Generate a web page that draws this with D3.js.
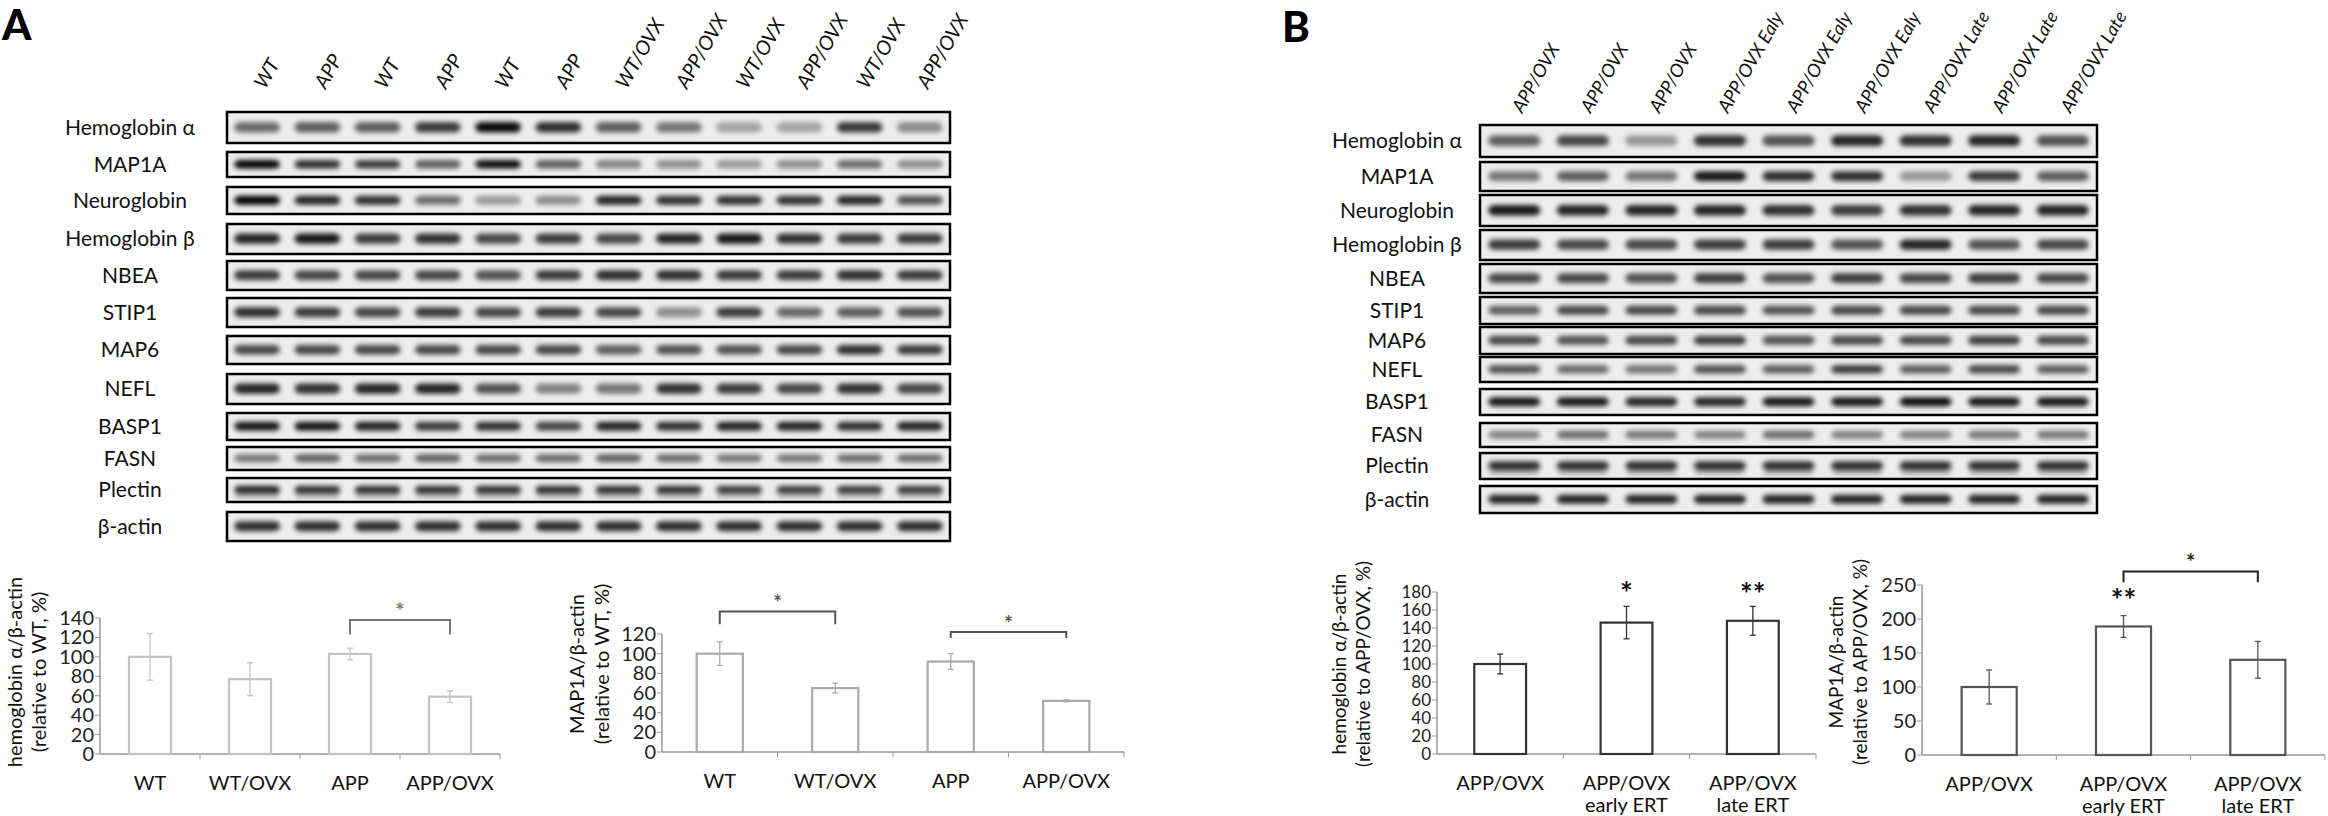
<!DOCTYPE html>
<html><head><meta charset="utf-8">
<script src="https://cdn.jsdelivr.net/npm/d3@7"></script>
<style>body{margin:0;background:#fff}svg{display:block}text{font-family:Lato,"Open Sans",sans-serif}</style>
</head><body><svg id="c" width="2328" height="816"></svg>
<script>
// ---------- DATA ----------
const rowNames = ["Hemoglobin α","MAP1A","Neuroglobin","Hemoglobin β","NBEA","STIP1","MAP6","NEFL","BASP1","FASN","Plectin","β-actin"];
const lanesA = ["WT","APP","WT","APP","WT","APP","WT/OVX","APP/OVX","WT/OVX","APP/OVX","WT/OVX","APP/OVX"];
const lanesB = ["APP/OVX","APP/OVX","APP/OVX","APP/OVX Ealy","APP/OVX Ealy","APP/OVX Ealy","APP/OVX Late","APP/OVX Late","APP/OVX Late"];
const bandsA = [
 [.55,.6,.6,.75,.95,.8,.6,.5,.3,.3,.75,.4],
 [1,.8,.75,.6,.95,.6,.45,.4,.35,.4,.55,.4],
 [1,.85,.8,.55,.35,.4,.85,.8,.8,.8,.85,.65],
 [.85,.9,.75,.8,.7,.75,.7,.85,.9,.8,.75,.75],
 [.75,.7,.7,.7,.65,.75,.8,.8,.75,.75,.8,.75],
 [.8,.75,.7,.75,.7,.75,.7,.4,.75,.55,.6,.65],
 [.7,.7,.7,.7,.7,.7,.6,.65,.65,.7,.8,.75],
 [.85,.8,.85,.85,.65,.45,.5,.8,.75,.7,.8,.7],
 [.9,.9,.85,.75,.8,.7,.85,.8,.85,.85,.8,.85],
 [.5,.6,.55,.6,.55,.55,.6,.55,.5,.5,.55,.55],
 [.85,.8,.8,.8,.8,.8,.8,.8,.75,.75,.75,.75],
 [.8,.8,.8,.8,.8,.8,.8,.8,.8,.8,.8,.8]];
const bandsB = [
 [.6,.7,.35,.8,.65,.85,.8,.85,.65],
 [.5,.6,.5,.9,.8,.8,.35,.75,.6],
 [.9,.85,.85,.85,.8,.75,.8,.85,.85],
 [.75,.7,.7,.75,.75,.65,.85,.65,.7],
 [.7,.7,.65,.75,.65,.75,.7,.75,.7],
 [.6,.7,.7,.7,.65,.7,.7,.7,.7],
 [.7,.65,.7,.75,.65,.7,.7,.75,.7],
 [.65,.55,.5,.65,.6,.75,.6,.7,.6],
 [.9,.9,.85,.85,.9,.9,.95,.9,.9],
 [.45,.55,.5,.45,.55,.45,.45,.5,.5],
 [.8,.8,.8,.8,.8,.8,.8,.8,.8],
 [.85,.85,.85,.85,.85,.85,.85,.85,.85]];
const catA = ["WT","WT/OVX","APP","APP/OVX"];
const hbA = [100,77,103,59], hbAerr = [24,17,6,6];
const mapA = [100,65,92,52], mapAerr = [12,5,8,1];
const catB = [["APP/OVX"],["APP/OVX","early ERT"],["APP/OVX","late ERT"]];
const hbB = [100,146,148], hbBerr = [11,18,16];
const mapB = [100,189,140], mapBerr = [25,16,27];
const ticksA1 = [0,20,40,60,80,100,120,140], ticksA2 = [0,20,40,60,80,100,120];
const ticksB1 = [0,20,40,60,80,100,120,140,160,180], ticksB2 = [0,50,100,150,200,250];

// ---------- DRAW ----------
const svg = d3.select("#c");
const defs = svg.append("defs");
defs.append("filter").attr("id","blur").attr("x","-30%").attr("y","-100%").attr("width","160%").attr("height","300%")
  .append("feGaussianBlur").attr("stdDeviation","2.8 2.4");

svg.append("text").attr("x",2).attr("y",40).attr("font-size",42).attr("font-weight",900).text("A");
svg.append("text").attr("x",1282).attr("y",42).attr("font-size",42).attr("font-weight",900).text("B");

function blot(cfg){
  const x = d3.scaleBand().domain(d3.range(cfg.lanes.length)).range([cfg.x0,cfg.x1]);
  const g = svg.append("g");
  g.selectAll("text.lane").data(cfg.lanes).join("text")
    .attr("transform",(d,i)=>`translate(${x(i)+x.bandwidth()/2+8},${cfg.labelY}) rotate(-60)`)
    .attr("font-size",cfg.lfs).attr("font-style","italic").attr("fill","#111").text(d=>d);
  cfg.rows.forEach((r,ri)=>{
    const [y0,y1] = cfg.boxes[ri];
    g.append("text").attr("x",cfg.labelX).attr("y",(y0+y1)/2+7).attr("text-anchor","middle")
      .attr("font-size",21).attr("fill","#111").text(r);
    g.append("rect").attr("x",cfg.x0).attr("y",y0).attr("width",cfg.x1-cfg.x0).attr("height",y1-y0)
      .attr("fill","#ededed").attr("stroke","#000").attr("stroke-width",2.5);
    const h = (y1-y0);
    g.selectAll(null).data(cfg.data[ri]).join("rect")
      .attr("x",(d,i)=>x(i)+x.bandwidth()*0.12).attr("width",x.bandwidth()*0.76)
      .attr("y",y0+h*0.32).attr("height",h*0.34).attr("rx",6)
      .attr("fill","#000").attr("opacity",d=>d).attr("filter","url(#blur)");
    if(r==="Plectin"){
      g.selectAll(null).data(cfg.data[ri]).join("rect")
        .attr("x",(d,i)=>x(i)+x.bandwidth()*0.14).attr("width",x.bandwidth()*0.72)
        .attr("y",y0+h*0.6).attr("height",h*0.25).attr("fill","#000").attr("opacity",d=>d*0.25).attr("filter","url(#blur)");
    }
  });
}
blot({lanes:lanesA,rows:rowNames,data:bandsA,x0:227,x1:950,labelX:130,labelY:90,lfs:20,
  boxes:[[112,143],[152,177],[187,214],[224,254],[261,290],[298,327],[336,364],[374,404],[413,440],[447,470],[478,502],[512,541]]});
blot({lanes:lanesB,rows:rowNames,data:bandsB,x0:1480,x1:2097,labelX:1397,labelY:114,lfs:18.5,
  boxes:[[125,157],[162,191],[195,226],[230,260],[264,293],[297,324],[327,354],[357,382],[389,415],[423,447],[453,479],[486,513]]});

function bars(cfg){
  const g = svg.append("g");
  const x = d3.scaleBand().domain(d3.range(cfg.cats.length)).range([cfg.x0,cfg.x1]);
  const y = d3.scaleLinear().domain([0,cfg.max]).range([cfg.y0,cfg.yTop]);
  const col = cfg.col, axc = "#999";
  const tfsz = cfg.tickfs||cfg.fs;
  g.append("line").attr("x1",cfg.x0).attr("x2",cfg.x0).attr("y1",y(0)).attr("y2",y(cfg.max)).attr("stroke",axc).attr("stroke-width",1.5);
  g.selectAll(null).data(cfg.ticks).join("line").attr("x1",cfg.x0-5).attr("x2",cfg.x0).attr("y1",d=>y(d)).attr("y2",d=>y(d)).attr("stroke",axc);
  g.selectAll(null).data(cfg.ticks).join("text").attr("x",cfg.x0-6).attr("y",d=>y(d)+tfsz*0.35).attr("text-anchor","end")
    .attr("font-size",tfsz).attr("fill","#222").text(d=>d);
  g.append("line").attr("x1",cfg.x0).attr("x2",cfg.x1).attr("y1",y(0)).attr("y2",y(0)).attr("stroke",axc).attr("stroke-width",1.5);
  g.selectAll(null).data(d3.range(1,cfg.cats.length+1)).join("line").attr("x1",i=>cfg.x0+i*x.step()).attr("x2",i=>cfg.x0+i*x.step())
    .attr("y1",y(0)).attr("y2",y(0)+5).attr("stroke",axc);
  const bw = x.bandwidth()*cfg.bw;
  g.selectAll(null).data(cfg.vals).join("rect").attr("x",(d,i)=>x(i)+(x.bandwidth()-bw)/2).attr("width",bw)
    .attr("y",d=>y(d)).attr("height",d=>y(0)-y(d)).attr("fill","#fff").attr("stroke",col).attr("stroke-width",2.2);
  cfg.vals.forEach((v,i)=>{
    const cx = x(i)+x.bandwidth()/2, e = cfg.err[i];
    g.append("line").attr("x1",cx).attr("x2",cx).attr("y1",y(v+e)).attr("y2",y(v-e)).attr("stroke",col).attr("stroke-width",1.3);
    [v+e,v-e].forEach(t=>g.append("line").attr("x1",cx-3).attr("x2",cx+3).attr("y1",y(t)).attr("y2",y(t)).attr("stroke",col).attr("stroke-width",1.3));
  });
  cfg.cats.forEach((c,i)=>{
    const lines = Array.isArray(c)?c:[c];
    lines.forEach((l,k)=>g.append("text").attr("x",x(i)+x.bandwidth()/2).attr("y",y(0)+cfg.ly+k*22)
      .attr("text-anchor","middle").attr("font-size",cfg.fs).attr("fill","#111").text(l));
  });
  cfg.title.forEach((t,k)=>g.append("text").attr("transform",`translate(${cfg.tx[k]},${cfg.ty}) rotate(-90)`)
    .attr("text-anchor","middle").attr("font-size",cfg.tfs||cfg.fs).attr("fill","#111").text(t));
  (cfg.brackets||[]).forEach(b=>{
    const xa = x(b.a)+x.bandwidth()/2, xb = x(b.b)+x.bandwidth()/2;
    g.append("path").attr("d",`M${xa},${y(b.leg)}V${y(b.top)}H${xb}V${y(b.leg)}`).attr("fill","none").attr("stroke",b.c).attr("stroke-width",2);
    g.append("text").attr("x",(xa+xb)/2).attr("y",y(b.top)+b.sy).attr("text-anchor","middle").attr("font-size",b.fs).attr("font-weight",700).attr("fill",b.c).text("*");
  });
  (cfg.stars||[]).forEach(s=>g.append("text").attr("x",x(s.i)+x.bandwidth()/2).attr("y",y(s.v)).attr("text-anchor","middle")
    .attr("font-size",30).attr("font-weight",700).attr("fill","#111").text(s.t));
}
bars({cats:catA,vals:hbA,err:hbAerr,max:140,ticks:ticksA1,x0:100,x1:500,y0:754,yTop:618,bw:0.42,col:"#c4c4c4",fs:20,ly:36,
  title:["hemoglobin α/β-actin","(relative to WT, %)"],tx:[22,46],ty:672,
  brackets:[{a:2,b:3,top:138,leg:123,c:"#777",sy:-1,fs:22}]});
bars({cats:catA,vals:mapA,err:mapAerr,max:120,ticks:ticksA2,x0:662,x1:1124,y0:752,yTop:634,bw:0.4,col:"#aaa",fs:20,ly:36,
  title:["MAP1A/β-actin","(relative to WT, %)"],tx:[584,609],ty:664,
  brackets:[{a:0,b:1,top:143,leg:130,c:"#555",sy:-1,fs:20},{a:2,b:3,top:122,leg:116,c:"#555",sy:-1,fs:20}]});
bars({cats:catB,vals:hbB,err:hbBerr,max:180,ticks:ticksB1,x0:1437,x1:1816,y0:754,yTop:592,bw:0.41,col:"#333",fs:20,tfs:19,tickfs:17,ly:36,
  title:["hemoglobin α/β-actin","(relative to APP/OVX, %)"],tx:[1346,1370],ty:664,
  stars:[{i:1,v:167,t:"*"},{i:2,v:166,t:"**"}]});
bars({cats:catB,vals:mapB,err:mapBerr,max:250,ticks:ticksB2,x0:1922,x1:2325,y0:755,yTop:585,bw:0.41,col:"#555",fs:20,tfs:19,ly:36,
  title:["MAP1A/β-actin","(relative to APP/OVX, %)"],tx:[1843,1867],ty:662,
  stars:[{i:1,v:212,t:"**"}],
  brackets:[{a:1,b:2,top:270,leg:254,c:"#222",sy:-1,fs:22}]});
</script></body></html>
